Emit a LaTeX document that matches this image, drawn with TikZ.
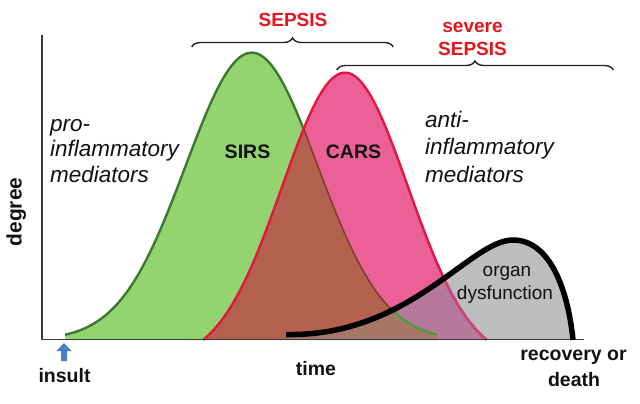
\documentclass[tikz,border=0pt]{standalone}
\usepackage{fontspec}
\setmainfont{Liberation Sans}
\usetikzlibrary{decorations.pathreplacing}
\definecolor{sirsfill}{HTML}{94D470}
\definecolor{sirsline}{HTML}{3B7A2E}
\definecolor{carsfill}{HTML}{EC6098}
\definecolor{carsline}{HTML}{E3173E}
\definecolor{carslinemuted}{HTML}{C44A7E}
\definecolor{brownfill}{HTML}{B5614F}
\definecolor{brownline}{HTML}{7F3F2C}
\definecolor{grayfill}{HTML}{BEBEC1}
\definecolor{mauvefill}{HTML}{B6789B}
\definecolor{graybrown}{HTML}{A67767}
\definecolor{greentail}{HTML}{4E9A3F}
\definecolor{sepsisred}{HTML}{E8141C}
\definecolor{axiscol}{HTML}{3A3A3A}
\definecolor{bracecol}{HTML}{222222}
\definecolor{arrowblue}{HTML}{4A7FCB}
\definecolor{txtblack}{HTML}{111111}
\begin{document}
\begin{tikzpicture}[x=1pt,y=-1pt,
  declare function={
    fsirs(\x)=340-287.3*exp(-0.5*((\x-251.7)/66)*((\x-251.7)/66));
    fcars(\x)=340-267.3*(exp(-0.5*((\x-345)/63)*((\x-345)/63))-0.0789)/0.9211;
  },
  lbl/.style={font=\fontsize{19.5}{23}\selectfont\bfseries, text=txtblack, inner sep=0pt, anchor=base},
  seplbl/.style={font=\fontsize{19}{23}\selectfont\bfseries, text=sepsisred, inner sep=0pt, anchor=base},
  medlbl/.style={font=\fontsize{22.5}{26}\selectfont\itshape, text=txtblack, inner sep=0pt, anchor=base west},
  organlbl/.style={font=\fontsize{19}{23}\selectfont, text=txtblack, inner sep=0pt, anchor=base},
  bracestyle/.style={decorate, decoration={brace, amplitude=9pt}, draw=bracecol, line width=1.4pt},
  axisline/.style={draw=axiscol, line width=1.6pt}]
\useasboundingbox (0,0) rectangle (640,404);

\def\sirscurve{plot[domain=65:437, samples=140] (\x,{fsirs(\x)})}
\def\sirsreg{\sirscurve -- (437,340) -- (65,340) -- cycle}
\def\carscurve{plot[domain=203.2:486.8, samples=140] (\x,{fcars(\x)})}
\def\carsreg{\carscurve -- cycle}
\def\organcurve{(286,334.5) .. controls (410,337) and (470,240) .. (513,240) .. controls (550,240) and (568,290) .. (573,340)}
\def\organreg{\organcurve -- (286,340) -- cycle}

% SIRS
\fill[sirsfill] \sirsreg;
\draw[sirsline, line width=2.4pt] \sirscurve;
% CARS
\fill[carsfill] \carsreg;
\begin{scope}
  \clip \sirsreg;
  \fill[brownfill] \carsreg;
\end{scope}
\begin{scope}
  \clip \carsreg;
  \draw[brownline, line width=1.6pt] \sirscurve;
\end{scope}
% organ dysfunction area
\fill[grayfill] \organreg;
\begin{scope}
  \clip \organreg;
  \fill[mauvefill] \carsreg;
  \begin{scope}
    \clip \sirsreg;
    \fill[graybrown] \carsreg;
  \end{scope}
  \draw[greentail, line width=2.4pt] \sirscurve;
\end{scope}
% CARS outline
\draw[carsline, line width=2.4pt] \carscurve;
\begin{scope}
  \clip \organreg;
  \draw[carslinemuted, line width=2.4pt] \carscurve;
\end{scope}

% axes
\coordinate (origin) at (41.7,339.5);
\coordinate (ytop) at (41.7,35);
\coordinate (xend) at (584,339.5);
\draw[axisline] (ytop) -- (origin) -- (xend);

% organ dysfunction curve
\draw[black, line width=5.5pt, line cap=butt, line join=round] \organcurve;

% braces
\coordinate (b1l) at (191.7,47);
\coordinate (b1r) at (393.3,47);
\coordinate (b2l) at (336.7,70);
\coordinate (b2r) at (613.3,70);
\draw[bracestyle] (b1l) -- (b1r);
\draw[bracestyle] (b2l) -- (b2r);

% insult arrow
\fill[arrowblue] (64,343) -- (71.5,351) -- (67,351) -- (67,361) -- (61,361) -- (61,351) -- (56.5,351) -- cycle;

% labels
\node[seplbl] (sepsis) at (293,26.7) {SEPSIS};
\node[seplbl] (severe) at (472.5,32.3) {severe};
\node[seplbl] (severe2) at (472.5,56) {SEPSIS};

\node[medlbl] (pro1) at (50,131) {pro-};
\node[medlbl] (pro2) at (50,156.5) {inflammatory};
\node[medlbl] (pro3) at (50,182) {mediators};
\node[medlbl] (anti1) at (425,127) {anti-};
\node[medlbl] (anti2) at (425,154) {inflammatory};
\node[medlbl] (anti3) at (425,182) {mediators};

\node[lbl] (sirs) at (247.5,158.3) {SIRS};
\node[lbl] (cars) at (353.5,158.3) {CARS};

\node[organlbl] (organ) at (507,276) {organ};
\node[organlbl] (dysf) at (505,299.5) {dysfunction};

\node[lbl] (time) at (316,375) {time};
\node[lbl] (insult) at (64.5,382.7) {insult};
\node[lbl] (recov) at (573.5,360) {recovery or};
\node[lbl] (death) at (574,386.7) {death};
\node[lbl, font=\fontsize{21}{24}\selectfont\bfseries, rotate=90] (degree) at (21.7,212) {degree};
\end{tikzpicture}
\end{document}
